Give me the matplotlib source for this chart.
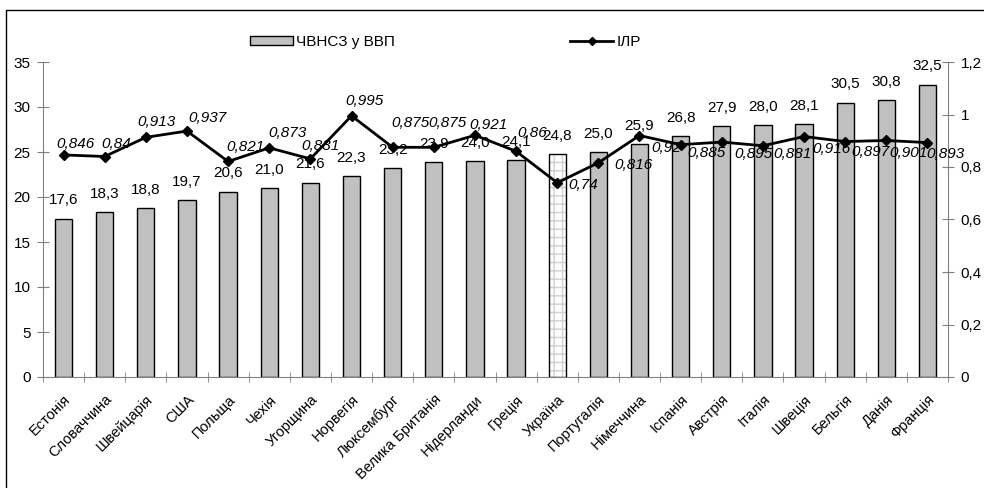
import matplotlib
matplotlib.use("Agg")
import matplotlib.pyplot as plt
from matplotlib.patches import Rectangle
from matplotlib.ticker import FuncFormatter, FixedLocator
import numpy as np

plt.rcParams['font.family'] = ['Liberation Sans', 'DejaVu Sans']

countries = ['Естонія', 'Словаччина', 'Швейцарія', 'США', 'Польща', 'Чехія',
             'Угорщина', 'Норвегія', 'Люксембург', 'Велика Британія', 'Нідерланди',
             'Греція', 'Україна', 'Португалія', 'Німеччина', 'Іспанія', 'Австрія',
             'Італія', 'Швеція', 'Бельгія', 'Данія', 'Франція']
chvnsz = [17.6, 18.3, 18.8, 19.7, 20.6, 21.0, 21.6, 22.3, 23.2, 23.9, 24.0,
          24.1, 24.8, 25.0, 25.9, 26.8, 27.9, 28.0, 28.1, 30.5, 30.8, 32.5]
ilr = [0.846, 0.84, 0.913, 0.937, 0.821, 0.873, 0.831, 0.995, 0.875, 0.875, 0.921,
       0.86, 0.74, 0.816, 0.92, 0.885, 0.895, 0.881, 0.916, 0.897, 0.901, 0.893]
highlight = 'Україна'

# label offsets for the line values, in pixels (dx, dy up)
ilr_offsets = [(12, 11), (12, 13), (11, 15), (20, 13), (17, 14), (18, 15), (10, 13),
               (13, 15), (18, 24), (14, 24), (14, 10), (16, 18), (26, -2), (35, -2),
               (27, -13), (26, -8), (32, -12), (30, -8), (27, -12), (25, -10),
               (22, -13), (18, -11)]

def comma(v, pos=None):
    return f"{v:g}".replace('.', ',')

fig = plt.figure(figsize=(9.84, 4.88), dpi=100)
ax = fig.add_axes([43 / 984, 1 - 377 / 488, 905 / 984, 315 / 488])
ax2 = ax.twinx()

x = np.arange(len(countries))
colors = ['white' if c == highlight else '#c0c0c0' for c in countries]
bars = ax.bar(x, chvnsz, width=0.42, color=colors, edgecolor='black', linewidth=1,
              zorder=2)
hi = countries.index(highlight)
bars[hi].set_edgecolor('#d0d0d0')
bars[hi].set_hatch('++')
bars[hi].set_linewidth(0)
ax.bar([x[hi]], [chvnsz[hi]], width=0.42, fill=False, edgecolor='black',
       linewidth=1, zorder=3)

for xi, v in zip(x, chvnsz):
    ax.annotate(f"{v:.1f}".replace('.', ','), (xi, v), xytext=(0, 8),
                textcoords='offset points', ha='center', va='bottom', fontsize=11)

ax2.plot(x, ilr, color='black', linewidth=2, marker='D', markersize=5.5,
         zorder=5)
for xi, v, (dx, dy) in zip(x, ilr, ilr_offsets):
    ax2.annotate(comma(v), (xi, v), xytext=(dx * 0.72, dy * 0.72),
                 textcoords='offset points', ha='center', va='center',
                 fontsize=11, style='italic')

ax.set_xlim(-0.5, len(countries) - 0.5)
ax.set_ylim(0, 35)
ax2.set_ylim(0, 1.2)
ax.set_yticks(np.arange(0, 36, 5))
ax2.set_yticks(np.arange(0, 1.21, 0.2))
ax2.yaxis.set_major_formatter(FuncFormatter(comma))

ax.set_xticks(x)
ax.set_xticklabels(countries, rotation=45, ha='right', rotation_mode='anchor',
                   fontsize=10.5)
ax.xaxis.set_minor_locator(FixedLocator(np.arange(-0.5, len(countries), 1)))
ax.tick_params(axis='x', which='major', length=0, pad=11)
ax.tick_params(axis='x', which='minor', direction='inout', length=7,
               color='#808080')
ax.tick_params(axis='y', direction='inout', length=8, color='#808080',
               labelsize=11, pad=5)
ax2.tick_params(axis='y', direction='inout', length=8, color='#808080',
                labelsize=11, pad=5)

for a in (ax, ax2):
    a.spines['top'].set_visible(False)
    for s in ('left', 'right', 'bottom'):
        a.spines[s].set_color('#808080')
ax.spines['right'].set_visible(False)
ax2.spines['left'].set_visible(False)
ax2.spines['bottom'].set_visible(False)

# legend
h_bar = Rectangle((0, 0), 1, 1, facecolor='#c0c0c0', edgecolor='black', linewidth=1)
h_line, = ax2.plot([], [], color='black', linewidth=2, marker='D', markersize=4)
fig.legend([h_bar, h_line], ['ЧВНСЗ у ВВП', 'ІЛР'], loc='center left',
           bbox_to_anchor=(250 / 984, 1 - 42 / 488), ncol=2, frameon=False,
           fontsize=11, handlelength=2.8, handleheight=0.6, handletextpad=0.2,
           columnspacing=11.5, borderpad=0, borderaxespad=0)

# outer frame
fig.patches.append(Rectangle((6 / 984, -0.1), 1.2, 1.1 - 10 / 488, fill=False,
                             edgecolor='black', linewidth=1,
                             transform=fig.transFigure, figure=fig))

fig.savefig('out.png', dpi=100)
